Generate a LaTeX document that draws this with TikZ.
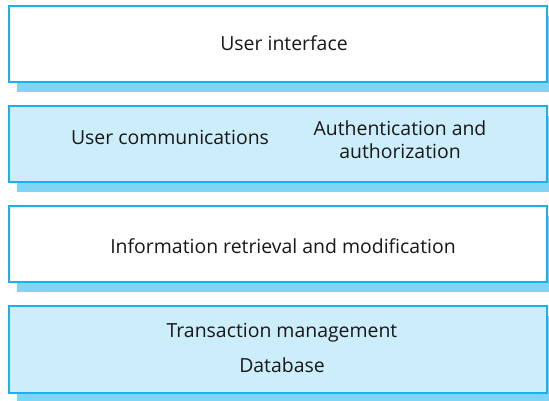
\documentclass[tikz,border=0pt]{standalone}
\usepackage{fontspec}
\setmainfont{Open Sans}
\usetikzlibrary{shadows}
\definecolor{edgeblue}{HTML}{1AB0EC}
\definecolor{fillblue}{HTML}{CCEEFA}
\definecolor{shadowblue}{HTML}{80D4F5}
\definecolor{txt}{HTML}{1A1718}
\begin{document}
\begin{tikzpicture}[x=1bp,y=-1bp,
  layer/.style={draw=edgeblue, line width=2bp, minimum width=538bp, inner sep=0pt,
    general shadow={shadow xshift=8bp, shadow yshift=-10bp, fill=shadowblue}},
  plain/.style={layer, fill=white},
  shaded/.style={layer, fill=fillblue},
  label/.style={text=txt, font=\fontsize{19.5}{23.5}\selectfont, inner sep=0pt, align=center},
  bl/.style={label, anchor=base}]
\useasboundingbox (0,0) rectangle (549,400);
\clip (0,0) rectangle (549,400);
\node[plain,  minimum height=76bp] (l1) at (278,44) {};
\node[shaded, minimum height=76bp] (l2) at (278,144) {};
\node[plain,  minimum height=76bp] (l3) at (278,244) {};
\node[shaded, minimum height=87bp] (l4) at (278,349.5) {};
\node[bl] (t1) at (284,50) {User interface};
\node[bl] (t2a) at (170,144) {User communications};
\node[label] (t2b) at (400,140) {Authentication and\\authorization};
\node[bl] (t3) at (283,253) {Information retrieval and modification};
\node[bl] (t4a) at (282,337) {Transaction management};
\node[bl] (t4b) at (282,372) {Database};
\end{tikzpicture}
\end{document}
